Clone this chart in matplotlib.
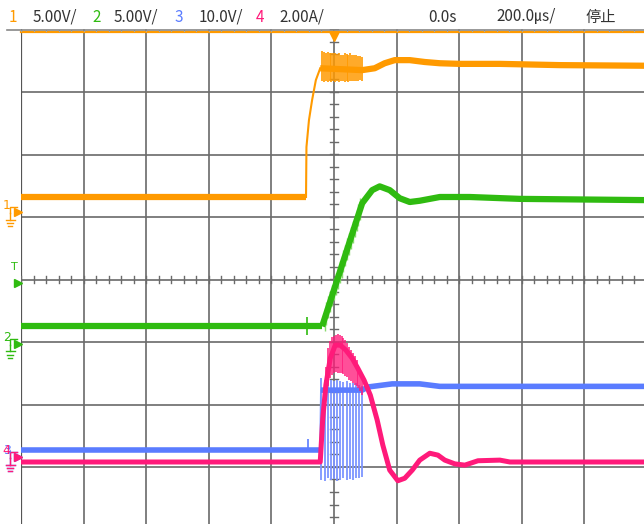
import matplotlib
matplotlib.use("Agg")
import matplotlib.pyplot as plt
import numpy as np
from matplotlib.lines import Line2D

plt.rcParams['font.family'] = ['Liberation Sans Narrow', 'Noto Sans CJK SC', 'DejaVu Sans']

# screen units: divisions (10 across, 8 down), center = 0,0
# header
header_labels = ["1", "5.00V/", "2", "5.00V/", "3", "10.0V/", "4", "2.00A/", "0.0s", "200.0㎲/", "停止"]
header_px = [9, 33, 92, 114, 175, 199, 256, 279, 428, 496, 586]

# ch1 (orange)
ch1_x_pre = [-5.0, -0.447]
ch1_y_pre = [1.32, 1.32]
ch1_x_edge = [-0.447, -0.44, -0.40, -0.35, -0.29, -0.22]
ch1_y_edge = [1.32, 2.12, 2.55, 2.87, 3.19, 3.38]
ch1_x_post = [-0.22, 0.45, 0.65, 0.81, 0.97, 1.21, 1.45, 1.69, 2.01, 2.65, 3.61, 5.0]
ch1_y_post = [3.38, 3.35, 3.38, 3.46, 3.51, 3.51, 3.48, 3.46, 3.45, 3.45, 3.43, 3.42]
ch1_ring_x = [-0.19, -0.16, -0.13, -0.10, -0.07, -0.04, -0.01, 0.02, 0.05, 0.08, 0.11, 0.14, 0.17,
              0.20, 0.23, 0.26, 0.29, 0.32, 0.35, 0.38, 0.41, 0.44]
ch1_ring_lo = [3.18, 3.16, 3.17, 3.16, 3.17, 3.16, 3.17, 3.16, 3.17, 3.16, 3.18, 3.17, 3.16,
               3.17, 3.16, 3.17, 3.18, 3.17, 3.18, 3.18, 3.19, 3.18]
ch1_ring_hi = [3.66, 3.64, 3.63, 3.64, 3.62, 3.63, 3.62, 3.63, 3.61, 3.62, 3.60, 3.60, 3.62,
               3.61, 3.60, 3.62, 3.60, 3.59, 3.60, 3.58, 3.58, 3.56]

# ch2 (green)
ch2_x_pre = [-5.0, -0.19]
ch2_y_pre = [-0.75, -0.75]
ch2_x_post = [-0.19, 0.45, 0.61, 0.73, 0.89, 1.05, 1.21, 1.37, 1.69, 2.17, 2.97, 5.0]
ch2_y_post = [-0.75, 1.22, 1.43, 1.49, 1.43, 1.30, 1.24, 1.26, 1.32, 1.32, 1.29, 1.27]
ch2_noise_x = [-0.15, -0.12, -0.09, -0.06, -0.03, 0.0, 0.03, 0.06, 0.09, 0.12, 0.15, 0.18, 0.21,
               0.24, 0.27, 0.30, 0.33, 0.36, 0.39, 0.42]
ch2_noise_lo = [-0.82, -0.72, -0.62, -0.52, -0.42, -0.33, -0.24, -0.15, -0.06, 0.03, 0.12, 0.22,
                0.31, 0.40, 0.49, 0.58, 0.68, 0.78, 0.86, 0.95]
ch2_noise_hi = [-0.46, -0.36, -0.27, -0.18, -0.08, 0.02, 0.11, 0.20, 0.29, 0.38, 0.47, 0.56,
                0.66, 0.75, 0.84, 0.93, 1.02, 1.11, 1.21, 1.30]

# ch3 (blue)
ch3_x_pre = [-5.0, -0.22]
ch3_y_pre = [-2.73, -2.73]
ch3_x_edge = [-0.22, -0.21]
ch3_y_edge = [-2.73, -1.77]
ch3_x_post = [-0.21, 0.45, 0.54, 0.93, 1.37, 1.69, 5.0]
ch3_y_post = [-1.77, -1.77, -1.72, -1.67, -1.67, -1.71, -1.71]
ch3_ring_x = [-0.20, -0.15, -0.10, -0.05, 0.0, 0.05, 0.10, 0.15, 0.20, 0.25, 0.30, 0.35, 0.40, 0.45]
ch3_ring_lo = [-3.20, -3.22, -3.18, -3.21, -3.19, -3.22, -3.20, -3.18, -3.21, -3.19, -3.20, -3.17, -3.18, -3.16]
ch3_ring_hi = [-1.58, -1.60, -1.62, -1.60, -1.63, -1.61, -1.62, -1.64, -1.63, -1.65, -1.66, -1.66, -1.68, -1.70]

# ch4 (pink)
ch4_x = [-5.0, -0.22, -0.18, -0.13, -0.06, 0.02, 0.10, 0.19, 0.29, 0.38, 0.48, 0.58, 0.69, 0.78,
         0.89, 1.02, 1.13, 1.25, 1.37, 1.53, 1.66, 1.77, 1.93, 2.09, 2.30, 2.65, 2.81, 5.0]
ch4_y = [-2.92, -2.92, -2.23, -1.69, -1.26, -1.05, -1.05, -1.13, -1.26, -1.42, -1.61, -1.85, -2.25, -2.65,
         -3.05, -3.22, -3.18, -3.05, -2.89, -2.78, -2.81, -2.89, -2.95, -2.97, -2.90, -2.89, -2.92, -2.92]
ch4_noise_x = [-0.12, -0.09, -0.06, -0.03, 0.0, 0.03, 0.06, 0.09, 0.12, 0.15, 0.18, 0.21, 0.24,
               0.27, 0.30, 0.33, 0.36, 0.39, 0.42, 0.45]
ch4_noise_lo = [-1.90, -1.70, -1.58, -1.52, -1.50, -1.48, -1.50, -1.49, -1.50, -1.51, -1.55, -1.56,
                -1.60, -1.62, -1.65, -1.68, -1.70, -1.73, -1.78, -1.85]
ch4_noise_hi = [-1.40, -1.10, -0.98, -0.92, -0.90, -0.88, -0.87, -0.89, -0.90, -0.93, -0.97, -1.02,
                -1.08, -1.12, -1.17, -1.22, -1.28, -1.36, -1.43, -1.52]

c1, c2, c3, c4 = '#ff9a00', '#2fbb10', '#5a7cff', '#ff1a7a'
gridc = '#6a6a6a'

fig = plt.figure(figsize=(6.44, 5.24), dpi=100)
ax = fig.add_axes([21/644, 1 - 529.5/524, 626/644, 500/524])
ax.set_xlim(-5, 5)
ax.set_ylim(-4, 4)
ax.axis('off')

# grid
for k in range(-4, 5):
    ax.axvline(k, color=gridc, lw=1.2, zorder=1)
for k in range(-3, 4):
    ax.axhline(k, color=gridc, lw=1.2, zorder=1)
ax.axvline(-5, color='#555555', lw=1.6, zorder=1)
# center axis minor ticks
for t in np.arange(-5, 5.01, 0.2):
    ax.plot([t, t], [-0.05, 0.05], color=gridc, lw=1, zorder=1)
for t in np.arange(-4, 4.01, 0.2):
    ax.plot([-0.06, 0.06], [t, t], color=gridc, lw=1, zorder=1)

# top border
fig.add_artist(Line2D([7/644, 1], [1 - 29.5/524] * 2, color='#888888', lw=1.2))
ax.plot([-5, 5], [3.965, 3.965], color=c1, lw=1.6, clip_on=False, zorder=2)
for t in np.arange(-5, 5.01, 0.2):
    ax.plot([t, t], [3.975, 4.0], color='#aaaaaa', lw=0.8, clip_on=False, zorder=3)
ax.plot([0], [3.9], marker='v', color=c1, ms=7, clip_on=False, zorder=4)

# ch1
ax.plot(ch1_x_pre, ch1_y_pre, color=c1, lw=4.5, solid_capstyle='butt', zorder=3)
ax.plot(ch1_x_edge, ch1_y_edge, color=c1, lw=1.5, zorder=3)
ax.vlines(ch1_ring_x, ch1_ring_lo, ch1_ring_hi, color=c1, lw=1.2, zorder=3)
ax.plot(ch1_x_post, ch1_y_post, color=c1, lw=4.5, solid_capstyle='butt', zorder=3)

# ch2
ax.plot(ch2_x_pre, ch2_y_pre, color=c2, lw=4.5, solid_capstyle='butt', zorder=3)
ax.vlines([-0.43], [-0.88], [-0.60], color=c2, lw=1.2, zorder=3)
ax.vlines(ch2_noise_x, ch2_noise_lo, ch2_noise_hi, color='#8ada70', lw=1.0, zorder=3)
ax.plot(ch2_x_post, ch2_y_post, color=c2, lw=4.5, solid_capstyle='butt', zorder=3)

# ch3
ax.plot(ch3_x_pre, ch3_y_pre, color=c3, lw=4, solid_capstyle='butt', zorder=4)
ax.vlines([-0.42], [-2.73], [-2.55], color=c3, lw=1.2, zorder=4)
ax.plot(ch3_x_edge, ch3_y_edge, color=c3, lw=1.2, zorder=4)
ax.vlines(ch3_ring_x, ch3_ring_lo, ch3_ring_hi, color='#7d95ff', lw=1.3, zorder=4)
ax.plot(ch3_x_post, ch3_y_post, color=c3, lw=4, solid_capstyle='butt', zorder=4)

# ch4
ax.vlines(ch4_noise_x, ch4_noise_lo, ch4_noise_hi, color=c4, lw=1.1, zorder=5)
ax.plot(ch4_x, ch4_y, color=c4, lw=3.6, solid_capstyle='butt', zorder=5)


# left side channel markers
def marker(label, y, color, ground=True, lab_dy=0.0):
    ax.text(-5.23, y + 0.1 + lab_dy, label, color=color, fontsize=9, ha='center', va='center',
            clip_on=False, family=['DejaVu Sans'])
    ax.plot([-5.05], [y], marker='>', color=color, ms=6, clip_on=False, zorder=6)
    ax.plot([-5.17, -5.17, -5.07], [y - 0.02, y + 0.08, y + 0.08], color=color, lw=1, clip_on=False)
    if ground:
        ax.plot([-5.17, -5.17], [y - 0.02, y - 0.12], color=color, lw=1, clip_on=False)
        for i, w in enumerate([0.07, 0.05, 0.03]):
            ax.plot([-5.17 - w, -5.17 + w], [y - 0.12 - 0.05 * i] * 2, color=color, lw=1, clip_on=False)


marker("1", 1.08, c1)
marker("2", -1.03, c2)
marker("3", -2.84, c3)
marker("4", -2.84, c4)
ax.text(-5.1, 0.2, "T", color=c2, fontsize=8, ha='center', va='center', clip_on=False,
        family=['DejaVu Sans'])
ax.plot([-5.05], [-0.06], marker='>', color=c2, ms=6, clip_on=False)

# header text
colors = [c1, '#333333', c2, '#333333', c3, '#333333', c4, '#333333', '#333333', '#333333', '#333333']
for lab, px, col in zip(header_labels, header_px, colors):
    fig.text(px / 644, 1 - 17 / 524, lab, color=col, fontsize=11, ha='left', va='center')

fig.savefig("out.png", dpi=100, facecolor='white')
